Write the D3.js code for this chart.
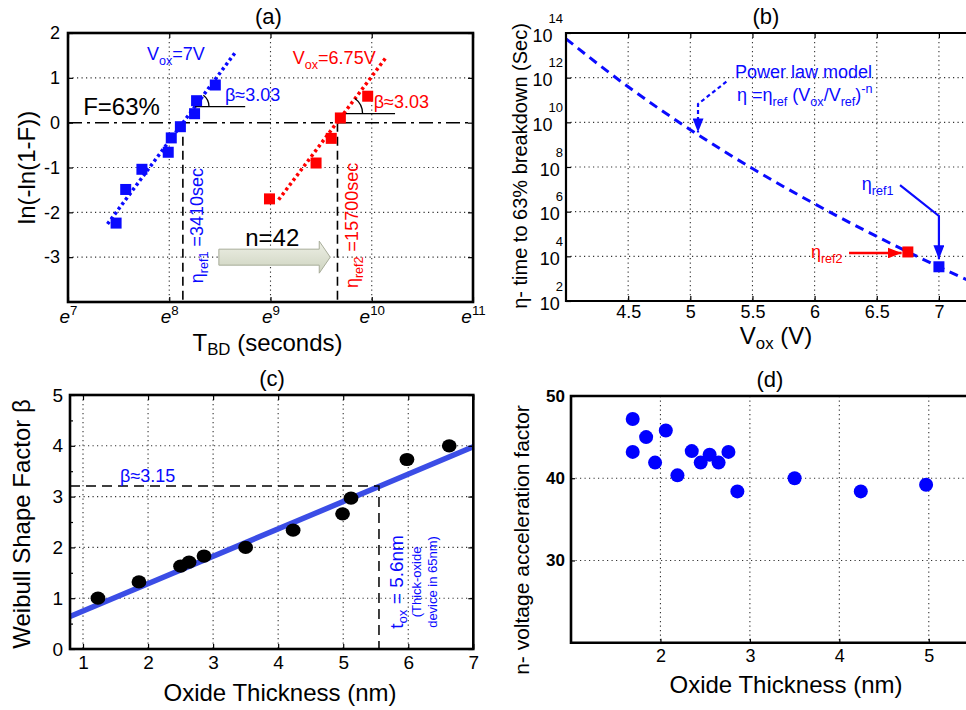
<!DOCTYPE html>
<html><head><meta charset="utf-8">
<script src="https://cdn.jsdelivr.net/npm/d3@7"></script>
<style>
body{margin:0;background:#fff}
text{font-family:"Liberation Sans",Arial,Helvetica,sans-serif}
</style></head><body>
<svg id="c" width="966" height="710" xmlns="http://www.w3.org/2000/svg"></svg>
<script>
// ================= DATA =================
// Panel (a): Weibull plots, x = ln(T_BD), y = ln(-ln(1-F))
const aBlueLnT = [7.475, 7.57, 7.73, 7.99, 8.02, 8.11, 8.25, 8.27, 8.455];
const aBlueY   = [-2.24, -1.49, -1.04, -0.66, -0.34, -0.09, 0.20, 0.49, 0.84];
const aRedLnT  = [8.99, 9.45, 9.60, 9.69, 9.96];
const aRedY    = [-1.70, -0.90, -0.35, 0.105, 0.59];
const aBlueFitLnT = [7.39, 8.65];
const aBlueFitY   = [-2.26, 1.56];
const aRedFitLnT  = [9.08, 10.14];
const aRedFitY    = [-1.72, 1.45];
const aEtaRef = [3410, 15700];
const aXTicks = [7, 8, 9, 10, 11];
const aYTicks = [2, 1, 0, -1, -2, -3];
const aGridX = [8, 9, 10];
const aGridY = [1, -1, -2, -3];

// Panel (b): eta vs Vox (log10 eta)
const bCurveV   = [4.0, 4.5, 5.0, 5.5, 6.0, 6.5, 7.0, 7.25];
const bCurveLog = [13.74, 11.59, 9.67, 7.93, 6.35, 4.89, 3.53, 2.89];
const bPointV   = [7.0, 6.75];
const bPointEta = [3410, 15700];
const bXTicks = [4.5, 5, 5.5, 6, 6.5, 7];
const bYTicks = [1e2, 1e4, 1e6, 1e8, 1e10, 1e12, 1e14];

// Panel (c): Weibull shape factor vs oxide thickness
const cTox  = [1.23, 1.86, 2.50, 2.63, 2.86, 3.50, 4.23, 4.99, 5.12, 5.98, 6.63];
const cBeta = [1.00, 1.32, 1.63, 1.71, 1.83, 2.00, 2.34, 2.66, 2.97, 3.73, 4.00];
const cFitX = [0.8, 7.0];
const cFitY = [0.64, 3.98];
const cRefTox = 5.55, cRefBeta = 3.21;
const cXTicks = [1, 2, 3, 4, 5, 6, 7];
const cYTicks = [0, 1, 2, 3, 4, 5];
const cYMinor = [0.5, 1.5, 2.5, 3.5, 4.5];

// Panel (d): voltage acceleration factor vs oxide thickness
const dTox = [1.69, 1.69, 1.84, 1.94, 2.06, 2.19, 2.35, 2.45, 2.55, 2.65, 2.76, 2.86, 3.50, 4.24, 4.97];
const dN   = [47.2, 43.2, 45.0, 41.9, 45.8, 40.35, 43.3, 41.9, 42.85, 41.9, 43.2, 38.4, 40.0, 38.4, 39.2];
const dXTicks = [2, 3, 4, 5];
const dYTicks = [30, 40, 50];

// ================= HELPERS =================
const BLUE = "#0a0aff", RED = "#ff0000";
const svg = d3.select("#c");
const defs = svg.append("defs");
function marker(id, color, w, h) {
  defs.append("marker").attr("id", id).attr("viewBox", "0 0 10 10")
    .attr("refX", 10).attr("refY", 5).attr("markerWidth", w).attr("markerHeight", h)
    .attr("markerUnits", "userSpaceOnUse").attr("orient", "auto").attr("preserveAspectRatio", "none")
    .append("path").attr("d", "M0,0L10,5L0,10z").attr("fill", color);
}
marker("arB", BLUE, 14, 11);
marker("arR", RED, 14, 11);
const grad = defs.append("linearGradient").attr("id", "arrG").attr("x1", 0).attr("y1", 0).attr("x2", 0).attr("y2", 1);
grad.append("stop").attr("offset", "0%").attr("stop-color", "#eef0e6");
grad.append("stop").attr("offset", "100%").attr("stop-color", "#cdd3bf");

function rich(g, x, y, parts, o) {
  const size = o.size;
  const t = g.append("text").attr("x", x).attr("y", y).attr("font-size", size)
    .attr("fill", o.fill || "#000").attr("text-anchor", o.anchor || "start");
  if (o.rotate) t.attr("transform", `rotate(${o.rotate},${x},${y})`);
  if (o.weight) t.attr("font-weight", o.weight);
  if (o.family) t.attr("font-family", o.family);
  const subK = o.subK || 0.28;
  let shift = 0;
  parts.forEach(([s, k, st, dx]) => {
    const target = k === "sub" ? size * subK : k === "sup" ? -size * 0.42 : 0;
    const ts = t.append("tspan").text(s).attr("dy", target - shift);
    if (k !== "n") ts.attr("font-size", o.subSize || size * 0.7);
    if (st) ts.attr("font-style", st);
    if (dx) ts.attr("dx", dx);
    shift = target;
  });
  return t;
}
function grid(g, vals, vertical, sc, a0, a1) {
  g.append("g").selectAll("line").data(vals).join("line")
    .attr("x1", d => vertical ? sc(d) : a0).attr("x2", d => vertical ? sc(d) : a1)
    .attr("y1", d => vertical ? a0 : sc(d)).attr("y2", d => vertical ? a1 : sc(d))
    .attr("stroke", "#333").attr("stroke-width", 1.1).attr("stroke-dasharray", "1.2,3.3");
}
function styleAxis(sel, size, weight) {
  sel.select(".domain").remove();
  sel.attr("font-family", null).attr("font-size", size);
  sel.selectAll(".tick line").attr("stroke", "#000").attr("stroke-width", 1.2);
  sel.selectAll(".tick text").attr("fill", "#000").attr("font-size", size)
    .attr("font-family", '"Liberation Sans",Arial,Helvetica,sans-serif');
  if (weight) sel.selectAll(".tick text").attr("font-weight", weight);
}

// ================= PANEL (a) =================
{
  const g = svg.append("g");
  const x = d3.scaleLinear().domain([7, 11]).range([68, 473]);
  const y = d3.scaleLinear().domain([-4, 2]).range([302, 33]);
  const [L, R] = x.range(), [B, T] = y.range();

  grid(g, aGridX, true, x, T, B);
  grid(g, aGridY, false, y, L, R);

  // n=42 arrow (behind)
  const ay = y(-3), ax0 = x(8.49), ax1 = x(9.59), ah = ax1 - 11;
  g.append("path").attr("d", `M${ax0},${ay - 8}L${ah},${ay - 8}L${ah},${ay - 16}L${ax1},${ay}L${ah},${ay + 16}L${ah},${ay + 8}L${ax0},${ay + 8}Z`)
    .attr("fill", "url(#arrG)").attr("stroke", "#a8ad9a").attr("stroke-width", 1);

  // dash-dot F=63% line
  g.append("line").attr("x1", L).attr("x2", R).attr("y1", y(0)).attr("y2", y(0))
    .attr("stroke", "#000").attr("stroke-width", 1.5).attr("stroke-dasharray", "14,5,3,5");
  // eta ref verticals
  g.append("g").selectAll("line").data(aEtaRef).join("line")
    .attr("x1", d => x(Math.log(d))).attr("x2", d => x(Math.log(d)))
    .attr("y1", y(0)).attr("y2", B).attr("stroke", "#000").attr("stroke-width", 1.6).attr("stroke-dasharray", "9,5");

  // fit lines
  const line = d3.line().x(d => x(d[0])).y(d => y(d[1]));
  g.append("path").attr("d", line(d3.zip(aBlueFitLnT, aBlueFitY))).attr("fill", "none")
    .attr("stroke", BLUE).attr("stroke-width", 3.5).attr("stroke-dasharray", "3,3");
  g.append("path").attr("d", line(d3.zip(aRedFitLnT, aRedFitY))).attr("fill", "none")
    .attr("stroke", RED).attr("stroke-width", 3.5).attr("stroke-dasharray", "3,3");

  // beta angle annotations
  const betaAnn = [
    {fx: aBlueFitLnT, fy: aBlueFitY, yv: 0.36, x1: 8.75, r: 14},
    {fx: aRedFitLnT, fy: aRedFitY, yv: 0.20, x1: 10.23, r: 19}
  ];
  betaAnn.forEach(b => {
    const slope = (b.fy[1] - b.fy[0]) / (b.fx[1] - b.fx[0]);
    const xi = b.fx[0] + (b.yv - b.fy[0]) / slope;
    const cx = x(xi), cy = y(b.yv);
    const ang = Math.atan2(y(b.fy[0]) - y(b.fy[1]), x(b.fx[1]) - x(b.fx[0]));
    g.append("line").attr("x1", cx).attr("x2", x(b.x1)).attr("y1", cy).attr("y2", cy)
      .attr("stroke", "#000").attr("stroke-width", 1.3);
    g.append("path").attr("d", `M${cx + b.r},${cy}A${b.r},${b.r} 0 0 0 ${cx + b.r * Math.cos(ang)},${cy - b.r * Math.sin(ang)}`)
      .attr("fill", "none").attr("stroke", "#000").attr("stroke-width", 1.3);
  });

  // points
  g.append("g").selectAll("rect").data(d3.zip(aBlueLnT, aBlueY)).join("rect")
    .attr("x", d => x(d[0]) - 5.5).attr("y", d => y(d[1]) - 5.5).attr("width", 11).attr("height", 11).attr("fill", BLUE);
  g.append("g").selectAll("rect").data(d3.zip(aRedLnT, aRedY)).join("rect")
    .attr("x", d => x(d[0]) - 5.5).attr("y", d => y(d[1]) - 5.5).attr("width", 11).attr("height", 11).attr("fill", RED);

  // axes
  g.append("g").attr("transform", `translate(${L},0)`)
    .call(d3.axisLeft(y).tickValues(aYTicks).tickSizeInner(-5).tickSizeOuter(0).tickPadding(8).tickFormat(d => String(d)))
    .call(s => styleAxis(s, 18));
  g.append("g").attr("transform", `translate(${R},0)`)
    .call(d3.axisRight(y).tickValues(aYTicks).tickSizeInner(-5).tickSizeOuter(0).tickFormat(""))
    .call(s => styleAxis(s, 18));
  g.append("g").attr("transform", `translate(0,${T})`)
    .call(d3.axisTop(x).tickValues(aXTicks).tickSizeInner(-5).tickSizeOuter(0).tickFormat(""))
    .call(s => styleAxis(s, 18));
  const xa = g.append("g").attr("transform", `translate(0,${B})`)
    .call(d3.axisBottom(x).tickValues(aXTicks).tickSizeInner(-5).tickSizeOuter(0).tickFormat(""))
    .call(s => styleAxis(s, 18));
  xa.selectAll(".tick text").remove();
  xa.selectAll(".tick").each(function (d) {
    rich(d3.select(this), 0, 21, [["e", "n", "italic"], [String(d), "sup"]], {size: 19, anchor: "middle"});
  });

  // frame
  g.append("rect").attr("x", L).attr("y", T).attr("width", R - L).attr("height", B - T)
    .attr("fill", "none").attr("stroke", "#000").attr("stroke-width", 2.6);

  // texts
  rich(g, x(7.78), y(1.40), [["V", "n"], ["ox", "sub"], ["=7V", "n"]], {size: 18, fill: BLUE});
  rich(g, x(9.22), y(1.31), [["V", "n"], ["ox", "sub"], ["=6.75V", "n"]], {size: 18, fill: RED});
  rich(g, x(8.55), y(0.48), [["β≈3.03", "n"]], {size: 18, fill: BLUE});
  rich(g, x(10.02), y(0.33), [["β≈3.03", "n"]], {size: 18, fill: RED});
  rich(g, x(7.15), y(0.17), [["F=63%", "n"]], {size: 24});
  rich(g, x(8.75), y(-2.75), [["n=42", "n"]], {size: 24});
  rich(g, x(8.33), y(-3.58), [["η", "n"], ["ref1", "sub"], [" =3410sec", "n"]], {size: 18, fill: BLUE, rotate: -90});
  rich(g, x(9.86), y(-3.69), [["η", "n"], ["ref2", "sub"], [" =15700sec", "n"]], {size: 18, fill: RED, rotate: -90});

  rich(g, (L + R) / 2 - 2, 24, [["(a)", "n"]], {size: 22, anchor: "middle"});
  rich(g, (L + R) / 2 - 3, 351, [["T", "n"], ["BD", "sub"], [" (seconds)", "n"]], {size: 24, anchor: "middle", subK: 0.18});
  rich(g, 35, (T + B) / 2, [["ln(-ln(1-F))", "n"]], {size: 24, anchor: "middle", rotate: -90});
}

// ================= PANEL (b) =================
{
  const g = svg.append("g");
  const x = d3.scaleLinear().domain([4, 7.25]).range([566, 970]);
  const y = d3.scaleLog().domain([1e2, 1e14]).range([301, 33]);
  const [L, R] = x.range(), [B, T] = y.range();

  grid(g, bXTicks, true, x, T, B);
  grid(g, bYTicks.slice(1, -1), false, y, L, R);

  const line = d3.line().x(d => x(d[0])).y(d => y(Math.pow(10, d[1]))).curve(d3.curveMonotoneX);
  g.append("path").attr("d", line(d3.zip(bCurveV, bCurveLog))).attr("fill", "none")
    .attr("stroke", BLUE).attr("stroke-width", 3).attr("stroke-dasharray", "9,6");

  const pc = [BLUE, RED];
  g.append("g").selectAll("rect").data(d3.zip(bPointV, bPointEta)).join("rect")
    .attr("x", d => x(d[0]) - 5.5).attr("y", d => y(d[1]) - 5.5).attr("width", 11).attr("height", 11)
    .attr("fill", (d, i) => pc[i]);

  // annotations (V, log10 eta)
  const ap = d3.line().x(d => x(d[0])).y(d => y(Math.pow(10, d[1])));
  g.append("path").attr("d", ap([[5.29, 11.82], [5.062, 10.82], [5.062, 9.55]])).attr("fill", "none")
    .attr("stroke", BLUE).attr("stroke-width", 2.2).attr("stroke-dasharray", "4,3").attr("marker-end", "url(#arB)");
  g.append("path").attr("d", ap([[6.687, 7.19], [7.0, 5.81], [7.0, 3.87]])).attr("fill", "none")
    .attr("stroke", BLUE).attr("stroke-width", 2.2).attr("marker-end", "url(#arB)");
  g.append("path").attr("d", ap([[6.277, 4.15], [6.70, 4.15]])).attr("fill", "none")
    .attr("stroke", RED).attr("stroke-width", 2.5).attr("marker-end", "url(#arR)");

  rich(g, x(5.36), y(Math.pow(10, 11.99)), [["Power law model", "n"]], {size: 18, fill: BLUE});
  rich(g, x(5.376), y(Math.pow(10, 10.96)), [["η =η", "n"], ["ref", "sub"], [" (V", "n"], ["ox", "sub"], ["/V", "n"], ["ref", "sub"], [")", "n"], ["-n", "sup"]], {size: 18, fill: BLUE});
  rich(g, x(6.38), y(Math.pow(10, 6.97)), [["η", "n"], ["ref1", "sub"]], {size: 18, fill: BLUE});
  rich(g, x(5.97), y(Math.pow(10, 3.93)), [["η", "n"], ["ref2", "sub"]], {size: 18, fill: RED});

  // axes
  g.append("g").attr("transform", `translate(0,${B})`)
    .call(d3.axisBottom(x).tickValues(bXTicks).tickSizeInner(-5).tickSizeOuter(0).tickPadding(4).tickFormat(d => String(d)))
    .call(s => styleAxis(s, 18));
  g.append("g").attr("transform", `translate(0,${T})`)
    .call(d3.axisTop(x).tickValues(bXTicks).tickSizeInner(-5).tickSizeOuter(0).tickFormat(""))
    .call(s => styleAxis(s, 18));
  const ya = g.append("g").attr("transform", `translate(${L},0)`)
    .call(d3.axisLeft(y).tickValues(bYTicks).tickSizeInner(-5).tickSizeOuter(0).tickFormat(""))
    .call(s => styleAxis(s, 18));
  ya.selectAll(".tick text").remove();
  ya.selectAll(".tick").each(function (d) {
    const t = d3.select(this).append("text").attr("x", -3).attr("y", 8).attr("text-anchor", "end")
      .attr("font-size", 18).attr("fill", "#000");
    t.append("tspan").text("10");
    t.append("tspan").text(String(Math.round(Math.log10(d)))).attr("font-size", 13)
      .attr("dx", -4).attr("dy", -19);
  });

  // frame (right edge beyond the view)
  g.append("path").attr("d", `M966,${T}L${L},${T}L${L},${B}L966,${B}`)
    .attr("fill", "none").attr("stroke", "#000").attr("stroke-width", 2.2);

  rich(g, 766, 24, [["(b)", "n"]], {size: 22, anchor: "middle"});
  rich(g, 776, 344, [["V", "n"], ["ox", "sub"], [" (V)", "n"]], {size: 24, anchor: "middle", subK: 0.22});
  rich(g, 527, 166, [["η- time to 63% breakdown (Sec)", "n"]], {size: 20, anchor: "middle", rotate: -90});
}

// ================= PANEL (c) =================
{
  const g = svg.append("g");
  const x = d3.scaleLinear().domain([0.8, 7]).range([70, 473.3]);
  const y = d3.scaleLinear().domain([0, 5]).range([649, 395]);
  const [L, R] = x.range(), [B, T] = y.range();

  grid(g, cXTicks.slice(0, -1), true, x, T, B);
  grid(g, cYTicks.slice(1, -1), false, y, L, R);

  const line = d3.line().x(d => x(d[0])).y(d => y(d[1]));
  g.append("path").attr("d", line(d3.zip(cFitX, cFitY))).attr("stroke", "#3b4de6").attr("stroke-width", 5.5).attr("fill", "none");

  g.append("path").attr("d", line([[0.8, cRefBeta], [cRefTox, cRefBeta], [cRefTox, 0]]))
    .attr("fill", "none").attr("stroke", "#000").attr("stroke-width", 1.5).attr("stroke-dasharray", "10,6");

  g.append("g").selectAll("ellipse").data(d3.zip(cTox, cBeta)).join("ellipse")
    .attr("cx", d => x(d[0])).attr("cy", d => y(d[1])).attr("rx", 7.4).attr("ry", 6.6).attr("fill", "#000");

  g.append("g").attr("transform", `translate(0,${B})`)
    .call(d3.axisBottom(x).tickValues(cXTicks).tickSizeInner(-5).tickSizeOuter(0).tickPadding(7).tickFormat(d => String(d)))
    .call(s => styleAxis(s, 19));
  g.append("g").attr("transform", `translate(0,${T})`)
    .call(d3.axisTop(x).tickValues(cXTicks).tickSizeInner(-5).tickSizeOuter(0).tickFormat(""))
    .call(s => styleAxis(s, 19));
  g.append("g").attr("transform", `translate(${L},0)`)
    .call(d3.axisLeft(y).tickValues(cYTicks).tickSizeInner(-5).tickSizeOuter(0).tickPadding(7).tickFormat(d => String(d)))
    .call(s => styleAxis(s, 19));
  g.append("g").attr("transform", `translate(${L},0)`)
    .call(d3.axisLeft(y).tickValues(cYMinor).tickSizeInner(-3).tickSizeOuter(0).tickFormat(""))
    .call(s => styleAxis(s, 19));
  g.append("g").attr("transform", `translate(${R},0)`)
    .call(d3.axisRight(y).tickValues(cYTicks).tickSizeInner(-5).tickSizeOuter(0).tickFormat(""))
    .call(s => styleAxis(s, 19));

  g.append("rect").attr("x", L).attr("y", T).attr("width", R - L).attr("height", B - T)
    .attr("fill", "none").attr("stroke", "#000").attr("stroke-width", 2.6);

  rich(g, x(1.57), y(3.29), [["β≈3.15", "n"]], {size: 18, fill: BLUE});
  rich(g, x(5.92), y(1.32), [["t", "n"], ["ox", "sub"], [" = 5.6nm", "n"]], {size: 19, fill: BLUE, rotate: -90, anchor: "middle", subK: 0.2});
  rich(g, x(6.2), y(1.32), [["(Thick-oxide", "n"]], {size: 13, fill: BLUE, rotate: -90, anchor: "middle", family: "Lato, 'Open Sans', sans-serif"});
  rich(g, x(6.44), y(1.32), [["device in 65nm)", "n"]], {size: 13, fill: BLUE, rotate: -90, anchor: "middle", family: "Lato, 'Open Sans', sans-serif"});

  rich(g, 272, 386, [["(c)", "n"]], {size: 22, anchor: "middle"});
  rich(g, 280, 701, [["Oxide Thickness (nm)", "n"]], {size: 24, anchor: "middle"});
  rich(g, 30, 524, [["Weibull Shape Factor β", "n"]], {size: 24, anchor: "middle", rotate: -90});
}

// ================= PANEL (d) =================
{
  const g = svg.append("g");
  const x = d3.scaleLinear().domain([1, 5.5]).range([571, 973.5]);
  const y = d3.scaleLinear().domain([20, 50]).range([642.7, 396]);
  const [L, R] = x.range(), [B, T] = y.range();

  grid(g, dXTicks, true, x, T, B);
  grid(g, dYTicks.slice(0, -1), false, y, L, R);

  g.append("g").selectAll("circle").data(d3.zip(dTox, dN)).join("circle")
    .attr("cx", d => x(d[0])).attr("cy", d => y(d[1])).attr("r", 7).attr("fill", "#0000ff");

  g.append("g").attr("transform", `translate(0,${B})`)
    .call(d3.axisBottom(x).tickValues(dXTicks).tickSizeInner(-4).tickSizeOuter(0).tickPadding(7).tickFormat(d => String(d)))
    .call(s => styleAxis(s, 18));
  g.append("g").attr("transform", `translate(${L},0)`)
    .call(d3.axisLeft(y).tickValues(dYTicks).tickSizeInner(-4).tickSizeOuter(0).tickPadding(6).tickFormat(d => String(d)))
    .call(s => styleAxis(s, 17, "bold"));

  g.append("path").attr("d", `M966,${T}L${L},${T}L${L},${B}L966,${B}`)
    .attr("fill", "none").attr("stroke", "#000").attr("stroke-width", 2.6);

  rich(g, 770, 387, [["(d)", "n"]], {size: 22, anchor: "middle"});
  rich(g, 786, 693, [["Oxide Thickness (nm)", "n"]], {size: 24, anchor: "middle"});
  rich(g, 529, 540, [["n- voltage acceleration factor", "n"]], {size: 21, anchor: "middle", rotate: -90});
}
</script>
</body></html>
